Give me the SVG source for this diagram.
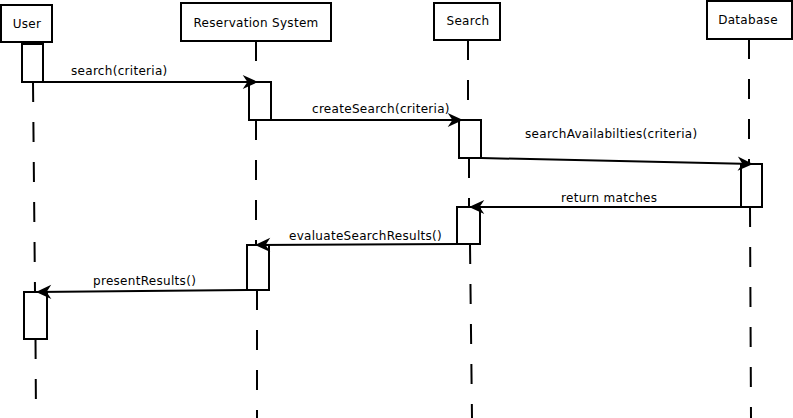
<svg xmlns="http://www.w3.org/2000/svg" width="793" height="418" viewBox="0 0 793 418">
<style>
.box{fill:#fff;stroke:#000;stroke-width:2}
.act{fill:#fff;stroke:#000;stroke-width:2}
.life{stroke:#000;stroke-width:2;stroke-dasharray:20 20;fill:none}
.msg{stroke:#000;stroke-width:2;fill:none;marker-end:url(#arr)}
text{font-family:"DejaVu Sans","Liberation Sans",sans-serif;font-size:12px;fill:#000;letter-spacing:0.3px}
.c{text-anchor:middle}
</style>
<defs>
<marker id="arr" markerUnits="userSpaceOnUse" markerWidth="20" markerHeight="20" viewBox="-15 -8 17 16" refX="0" refY="0" orient="auto">
<path d="M0,0 L-13,-6 L-9,0 L-13,6 Z" fill="#000"/>
</marker>
</defs>
<g id="lifelines">
<line class="life" x1="33" y1="82" x2="35" y2="292"/>
<line class="life" x1="35.5" y1="339" x2="36" y2="418"/>
<line class="life" x1="256" y1="41" x2="256" y2="82"/>
<line class="life" x1="256" y1="120" x2="256" y2="245"/>
<line class="life" x1="257" y1="290" x2="257" y2="418"/>
<line class="life" x1="468" y1="40" x2="468" y2="120"/>
<line class="life" x1="469" y1="158" x2="469" y2="207"/>
<line class="life" x1="470" y1="244" x2="472" y2="418"/>
<line class="life" x1="749" y1="39" x2="749" y2="164"/>
<line class="life" x1="750" y1="207" x2="751" y2="418"/>
</g>
<g id="user">
<rect class="box" x="1" y="5" width="51" height="37"/>
<text class="c" x="27" y="28">User</text>
<rect class="act" x="22" y="44" width="21" height="38"/>
<rect class="act" x="24" y="292" width="23" height="47"/>
</g>
<g id="reservation-system">
<rect class="box" x="181" y="3" width="150" height="38"/>
<text class="c" x="256" y="27">Reservation System</text>
<rect class="act" x="249" y="82" width="22" height="38"/>
<rect class="act" x="247" y="245" width="22" height="45"/>
</g>
<g id="search">
<rect class="box" x="434" y="3" width="66" height="37"/>
<text class="c" x="468" y="25">Search</text>
<rect class="act" x="459" y="120" width="22" height="38"/>
<rect class="act" x="457" y="207" width="23" height="37"/>
</g>
<g id="database">
<rect class="box" x="707" y="1" width="85" height="38"/>
<text class="c" x="748" y="24">Database</text>
<rect class="act" x="741" y="164" width="21" height="43"/>
</g>
<g id="connectors">
<line class="msg" x1="43" y1="82" x2="258" y2="82"/>
<text x="71" y="75">search(criteria)</text>
<line class="msg" x1="271" y1="120" x2="463" y2="120"/>
<text x="312" y="113">createSearch(criteria)</text>
<line class="msg" x1="481" y1="158" x2="753" y2="164"/>
<text x="525" y="138">searchAvailabilties(criteria)</text>
<line class="msg" x1="741" y1="207" x2="469" y2="207"/>
<text x="561" y="202">return matches</text>
<line class="msg" x1="457" y1="244" x2="255" y2="245"/>
<text x="289" y="240">evaluateSearchResults()</text>
<line class="msg" x1="247" y1="290" x2="36" y2="292"/>
<text x="93" y="285">presentResults()</text>
</g>
</svg>
